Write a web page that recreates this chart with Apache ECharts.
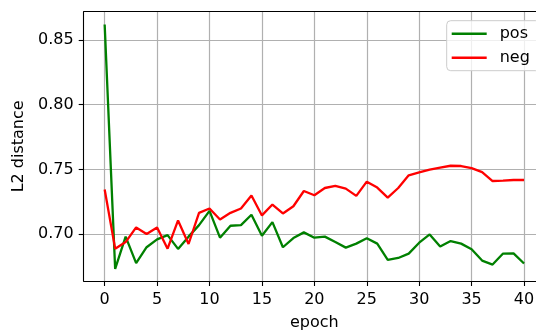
<!DOCTYPE html>
<html><head><meta charset="utf-8">
<script src="https://cdn.jsdelivr.net/npm/echarts@6/dist/echarts.min.js"></script>
<style>html,body{margin:0;padding:0;background:#fff}#c{width:536px;height:334px}</style>
</head><body><div id="c"></div>
<script>
const epochs = Array.from({length: 41}, (_, i) => i);
const posValues = [0.862,0.673,0.698,0.6775,0.6898,0.6959,0.6992,0.6885,0.698,0.7069,
  0.7179,0.6972,0.7064,0.7069,0.7149,0.6987,0.7092,0.6898,0.6969,0.7013,
  0.6972,0.698,0.6938,0.6895,0.6926,0.6967,0.6926,0.68,0.6815,0.6849,
  0.6933,0.6997,0.6903,0.6946,0.6926,0.6882,0.6795,0.6764,0.6849,0.6851,0.6772];
const negValues = [0.7344,0.6887,0.6938,0.7051,0.70,0.7051,0.6887,0.7105,0.6923,0.7164,
  0.7198,0.7113,0.7164,0.7198,0.7298,0.7144,0.7228,0.7159,0.7215,0.7333,
  0.730,0.7356,0.7372,0.7351,0.7295,0.7405,0.7359,0.7282,0.7356,0.7454,
  0.7477,0.7498,0.7513,0.7528,0.7526,0.751,0.7479,0.741,0.7413,0.7418,0.7418];
const xTicks = [0,5,10,15,20,25,30,35,40];
const yTicks = [0.70,0.75,0.80,0.85];

const font = 'DejaVu Sans';
const fs = 16;
const chart = echarts.init(document.getElementById('c'), null, {renderer: 'canvas'});
chart.setOption({
  animation: false,
  backgroundColor: '#fff',
  grid: {left: 83.7, top: 11.7, width: 461.3, bottom: 53, outerBoundsMode: 'none', containLabel: false},
  legend: {
    orient: 'vertical', left: 446.7, top: 20.7,
    padding: [5, 10, 5, 5], itemGap: 8,
    itemWidth: 35, itemHeight: 2.5, icon: 'rect',
    backgroundColor: 'rgba(255,255,255,0.8)', borderColor: '#cccccc', borderWidth: 1, borderRadius: 4,
    textStyle: {fontFamily: font, fontSize: fs, color: '#000', padding: [0,0,0,8]},
    data: ['pos', 'neg']
  },
  xAxis: [{
    type: 'value', min: -2, max: 42,
    name: 'epoch', nameLocation: 'middle', nameGap: 34,
    nameTextStyle: {fontFamily: font, fontSize: fs, color: '#000'},
    axisLine: {show: true, onZero: false, lineStyle: {color: '#000', width: 1.1}},
    axisTick: {show: true, length: 5, customValues: xTicks, lineStyle: {color: '#000', width: 1.1}},
    axisLabel: {customValues: xTicks, margin: 11, fontFamily: font, fontSize: fs, color: '#000'},
    splitLine: {show: true, lineStyle: {color: '#b0b0b0', width: 1.2}}
  }, {
    type: 'value', min: -2, max: 42, position: 'top',
    axisLine: {show: true, onZero: false, lineStyle: {color: '#000', width: 1.1}},
    axisTick: {show: false}, axisLabel: {show: false}, splitLine: {show: false}
  }],
  yAxis: {
    type: 'value', min: 0.6637, max: 0.8719,
    name: 'L2 distance', nameLocation: 'middle', nameGap: 56, nameRotate: 90,
    nameTextStyle: {fontFamily: font, fontSize: fs, color: '#000'},
    axisLine: {show: true, onZero: false, lineStyle: {color: '#000', width: 1.1}},
    axisTick: {show: true, length: 5, customValues: yTicks, lineStyle: {color: '#000', width: 1.1}},
    axisLabel: {customValues: yTicks, margin: 10, fontFamily: font, fontSize: fs, color: '#000',
      formatter: v => v.toFixed(2)},
    splitLine: {show: true, lineStyle: {color: '#b0b0b0', width: 1.2}}
  },
  series: [{
    name: 'pos', type: 'line', symbol: 'none', clip: false,
    color: '#008000', lineStyle: {width: 2.3, color: '#008000'},
    data: epochs.map((e, i) => [e, posValues[i]])
  }, {
    name: 'neg', type: 'line', symbol: 'none', clip: false,
    color: '#ff0000', lineStyle: {width: 2.3, color: '#ff0000'},
    data: epochs.map((e, i) => [e, negValues[i]])
  }]
});
</script></body></html>
